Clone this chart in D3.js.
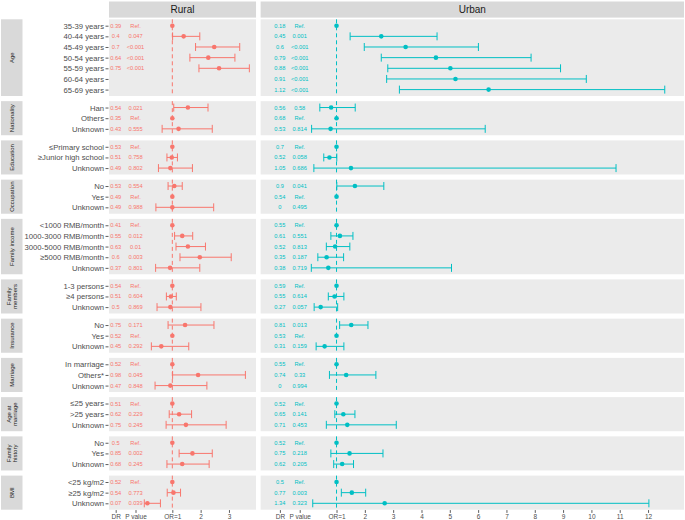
<!DOCTYPE html>
<html><head><meta charset="utf-8">
<script src="https://cdn.jsdelivr.net/npm/d3@7"></script>
<style>
html,body{margin:0;padding:0;background:#fff;}
svg{display:block;font-family:"Liberation Sans",Arial,sans-serif;}
</style></head>
<body><svg id="chart" width="685" height="520"></svg>
<script>
// ---- data ----
const groups = ["Age","Nationality","Education","Occupation","Family income","Family members","Insurance","Marriage","Age at marriage","Family history","BMI"];
const groupLabels = [["Age"],["Nationality"],["Education"],["Occupation"],["Family income"],["Family","members"],["Insurance"],["Marriage"],["Age at","marriage"],["Family","history"],["BMI"]];
const rowGroup = ["Age","Age","Age","Age","Age","Age","Age","Nationality","Nationality","Nationality","Education","Education","Education","Occupation","Occupation","Occupation","Family income","Family income","Family income","Family income","Family income","Family members","Family members","Family members","Insurance","Insurance","Insurance","Marriage","Marriage","Marriage","Age at marriage","Age at marriage","Age at marriage","Family history","Family history","Family history","BMI","BMI","BMI"];
const categories = ["35-39 years","40-44 years","45-49 years","50-54 years","55-59 years","60-64 years","65-69 years","Han","Others","Unknown","≤Primary school","≥Junior high school","Unknown","No","Yes","Unknown","<1000 RMB/month","1000-3000 RMB/month","3000-5000 RMB/month","≥5000 RMB/month","Unknown","1-3 persons","≥4 persons","Unknown","No","Yes","Unknown","In marriage","Others*","Unknown","≤25 years",">25 years","Unknown","No","Yes","Unknown","<25 kg/m2","≥25 kg/m2","Unknown"];

const ruralDR = [0.39,0.4,0.7,0.64,0.75,null,null,0.54,0.35,0.43,0.53,0.51,0.49,0.53,0.49,0.49,0.41,0.55,0.63,0.6,0.37,0.54,0.51,0.5,0.75,0.52,0.45,0.52,0.98,0.47,0.51,0.62,0.75,0.5,0.85,0.68,0.52,0.54,0.07];
const ruralP = ["Ref.","0.047","<0.001","<0.001","<0.001",null,null,"0.021","Ref.","0.555","Ref.","0.758","0.802","0.554","Ref.","0.988","Ref.","0.012","0.01","0.003","0.801","Ref.","0.604","0.869","0.171","Ref.","0.292","Ref.","0.045","0.848","Ref.","0.229","0.245","Ref.","0.002","0.245","Ref.","0.773","0.039"];
const ruralOR = [1,1.40,2.48,2.27,2.65,null,null,1.55,1,1.22,1,0.98,0.93,1.07,1,1.00,1,1.35,1.55,1.97,0.92,1,0.95,0.93,1.45,1,0.61,1,1.91,0.93,1,1.24,1.48,1,1.71,1.35,1,1.04,0.12];
const ruralLo = [null,1.01,1.82,1.62,1.94,null,null,1.05,null,0.64,null,0.81,0.51,0.85,null,0.42,null,1.08,1.13,1.27,0.41,null,0.79,0.46,0.85,null,0.26,null,1.01,0.39,null,0.89,0.78,null,1.24,0.81,null,0.82,0.01];
const ruralHi = [null,1.97,3.38,3.21,3.72,null,null,2.26,null,2.41,null,1.18,1.71,1.35,null,2.46,null,1.72,2.17,3.08,1.97,null,1.14,2.01,2.47,null,1.58,null,3.58,2.22,null,1.68,2.90,null,2.41,2.30,null,1.29,0.58];

const urbanDR = [0.18,0.45,0.6,0.79,0.88,0.91,1.12,0.56,0.68,0.53,0.7,0.52,1.05,0.9,0.54,0,0.55,0.61,0.52,0.35,0.38,0.59,0.55,0.27,0.81,0.53,0.31,0.55,0.74,0,0.52,0.65,0.71,0.52,0.75,0.62,0.5,0.77,1.34];
const urbanP = ["Ref.","0.001","<0.001","<0.001","<0.001","<0.001","<0.001","0.58","Ref.","0.814","Ref.","0.058","0.686","0.041","Ref.","0.495","Ref.","0.551","0.813","0.187","0.719","Ref.","0.614","0.057","0.013","Ref.","0.159","Ref.","0.33","0.994","Ref.","0.141","0.453","Ref.","0.218","0.205","Ref.","0.003","0.323"];
const urbanOR = [1,2.58,3.44,4.51,5.02,5.20,6.37,0.81,1,0.79,1,0.75,1.51,1.65,1,null,1,1.12,0.95,0.65,0.71,1,0.93,0.44,1.52,1,0.58,1,1.34,null,1,1.24,1.38,1,1.46,1.20,1,1.54,2.70];
const urbanLo = [null,1.48,1.98,2.58,2.81,2.77,3.22,0.41,null,0.12,null,0.55,0.20,1.01,null,null,null,0.80,0.64,0.34,0.11,null,0.71,0.21,1.11,null,0.28,null,0.75,null,null,0.94,0.64,null,0.80,0.90,null,1.17,0.16];
const urbanHi = [null,4.55,6.01,7.87,8.91,9.82,12.59,1.66,null,6.25,null,1.01,10.87,2.67,null,null,null,1.58,1.47,1.25,5.06,null,1.26,1.04,2.11,null,1.26,null,2.39,null,null,1.65,3.11,null,2.64,1.60,null,2.03,12.03];

const panelNames = ["Rural","Urban"];
const panelColors = ["#F8766D","#00BFC4"];
const drPos = -1, pPos = -0.3;
const ruralTicks = [-1,-0.3,1,2,3];
const urbanTicks = [-1,-0.3,1,2,3,4,5,6,7,8,9,10,11,12];
const tickName = v => v === -1 ? "DR" : v === -0.3 ? "P value" : v === 1 ? "OR=1" : String(v);

// ---- layout ----
const svg = d3.select("#chart");
const plotLeft = 109, plotRight = 684, gapX = 4.6;
const plotTop = 19.3, plotBottom = 509.7, gapY = 5.15;
const stripTop = 1.5, stripBot = 17.6;

const series = [
  {name:panelNames[0], dr:ruralDR, p:ruralP, or:ruralOR, lo:ruralLo, hi:ruralHi, ticks:ruralTicks, color:panelColors[0]},
  {name:panelNames[1], dr:urbanDR, p:urbanP, or:urbanOR, lo:urbanLo, hi:urbanHi, ticks:urbanTicks, color:panelColors[1]}
];
series.forEach(s => {
  const vals = [drPos, ...s.lo, ...s.hi, ...s.or].filter(v => v != null);
  const [a,b] = d3.extent(vals);
  const pad = (b-a)*0.05;
  s.domain = [a-pad, b+pad];
  s.span = s.domain[1]-s.domain[0];
});
const totalSpan = d3.sum(series, s => s.span);
const availW = plotRight - plotLeft - gapX*(series.length-1);
let xc = plotLeft;
series.forEach(s => {
  const w = availW * s.span/totalSpan;
  s.x = d3.scaleLinear().domain(s.domain).range([xc, xc+w]);
  s.x0 = xc; s.x1 = xc+w;
  xc += w + gapX;
});

// vertical layout per group (discrete scale, 0.6 expansion)
const groupSizes = groups.map(g => rowGroup.filter(r => r === g).length);
const units = d3.sum(groupSizes, n => n - 1 + 1.2);
const unit = (plotBottom - plotTop - gapY*(groups.length-1)) / units;
let yc = plotTop;
const groupBox = [];
groups.forEach((g,i) => {
  const h = (groupSizes[i]-1+1.2)*unit;
  const idx = rowGroup.map((r,j)=>r===g?j:-1).filter(j=>j>=0);
  const y = d3.scalePoint().domain(idx).range([yc+0.6*unit, yc+h-0.6*unit]);
  groupBox.push({g, y0:yc, y1:yc+h, y, idx, label:groupLabels[i]});
  yc += h + gapY;
});
const rowY = j => { const gb = groupBox.find(b => b.idx.includes(j)); return gb.y(j); };

// top strips
series.forEach(s => {
  svg.append("rect").attr("x", s.x0).attr("y", stripTop).attr("width", s.x1-s.x0).attr("height", stripBot-stripTop).attr("fill","#D9D9D9");
  svg.append("text").attr("x",(s.x0+s.x1)/2).attr("y",(stripTop+stripBot)/2).attr("dy","0.35em")
    .attr("text-anchor","middle").attr("font-size",10).attr("fill","#1A1A1A").text(s.name);
});

// row strips + panels
groupBox.forEach(gb => {
  svg.append("rect").attr("x",1).attr("y",gb.y0).attr("width",21.5).attr("height",gb.y1-gb.y0).attr("fill","#D9D9D9");
  const cx = 11.8, cy = (gb.y0+gb.y1)/2;
  const t = svg.append("text").attr("transform",`translate(${cx},${cy}) rotate(-90)`)
    .attr("text-anchor","middle").attr("font-size",6).attr("fill","#1A1A1A");
  const n = gb.label.length;
  gb.label.forEach((l,k) => {
    t.append("tspan").attr("x",0).attr("y",(k-(n-1)/2)*6.6).attr("dy","0.35em").text(l);
  });
  series.forEach(s => {
    svg.append("rect").attr("x",s.x0).attr("y",gb.y0).attr("width",s.x1-s.x0).attr("height",gb.y1-gb.y0).attr("fill","#EBEBEB");
    svg.append("line").attr("x1",s.x(1)).attr("x2",s.x(1)).attr("y1",gb.y0).attr("y2",gb.y1)
      .attr("stroke",s.color).attr("stroke-width",1).attr("stroke-dasharray","4,3");
  });
  // y axis
  const ax = d3.axisLeft(gb.y).tickSize(3).tickPadding(1.5).tickFormat(j => categories[j]);
  const g = svg.append("g").attr("transform",`translate(${plotLeft-0.5},0)`).call(ax);
  g.select(".domain").remove();
  g.selectAll(".tick line").attr("stroke","#333333").attr("stroke-width",0.8);
  g.selectAll(".tick text").attr("fill","#4D4D4D").attr("font-size",7.7).attr("font-family","Liberation Sans, Arial, sans-serif");
});

// marks
series.forEach(s => {
  const idx = d3.range(categories.length);
  const capH = unit*0.75;
  const bars = idx.filter(j => s.lo[j] != null && s.hi[j] != null);
  svg.append("g").selectAll("line").data(bars).join("line")
    .attr("x1", j=>s.x(s.lo[j])).attr("x2", j=>s.x(s.hi[j])).attr("y1", rowY).attr("y2", rowY)
    .attr("stroke", s.color).attr("stroke-width",1);
  ["lo","hi"].forEach(k => {
    svg.append("g").selectAll("line").data(bars).join("line")
      .attr("x1", j=>s.x(s[k][j])).attr("x2", j=>s.x(s[k][j]))
      .attr("y1", j=>rowY(j)-capH/2).attr("y2", j=>rowY(j)+capH/2)
      .attr("stroke", s.color).attr("stroke-width",1);
  });
  svg.append("g").selectAll("circle").data(idx.filter(j => s.or[j] != null)).join("circle")
    .attr("cx", j=>s.x(s.or[j])).attr("cy", rowY).attr("r",2.3).attr("fill", s.color);
  svg.append("g").selectAll("text").data(idx.filter(j => s.dr[j] != null)).join("text")
    .attr("x", s.x(drPos)).attr("y", rowY).attr("dy","0.35em").attr("text-anchor","middle")
    .attr("font-size",5.7).attr("fill",s.color).text(j => String(s.dr[j]));
  svg.append("g").selectAll("text").data(idx.filter(j => s.p[j] != null)).join("text")
    .attr("x", s.x(pPos)).attr("y", rowY).attr("dy","0.35em").attr("text-anchor","middle")
    .attr("font-size",5.7).attr("fill",s.color).text(j => s.p[j]);
  // x axis
  const ax = d3.axisBottom(s.x).tickValues(s.ticks).tickFormat(tickName).tickSize(2.8).tickPadding(1.2);
  const g = svg.append("g").attr("transform",`translate(0,${plotBottom+0.4})`).call(ax);
  g.select(".domain").remove();
  g.selectAll(".tick line").attr("stroke","#333333").attr("stroke-width",0.8);
  g.selectAll(".tick text").attr("fill","#4D4D4D").attr("font-size",6.5).attr("font-family","Liberation Sans, Arial, sans-serif");
});
</script></body></html>
